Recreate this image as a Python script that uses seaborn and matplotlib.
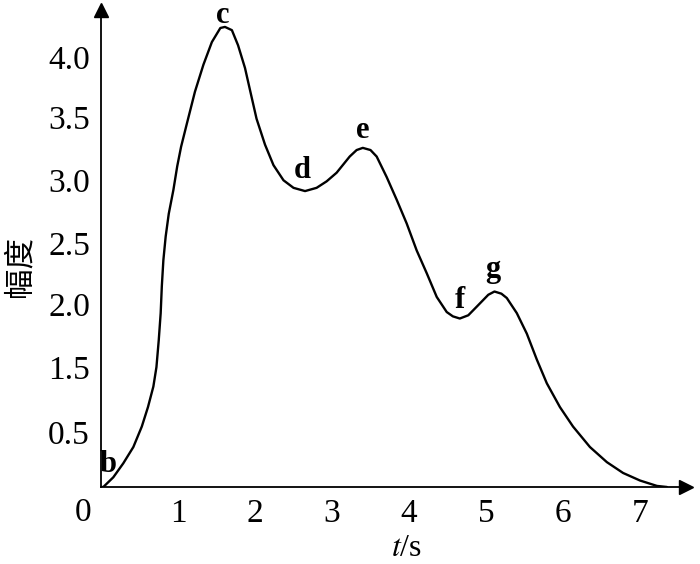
import matplotlib
matplotlib.use('Agg')
import pandas as pd
import matplotlib.pyplot as plt
import seaborn as sns

# --- DATA ---
# curve (time in s, amplitude)
t_vals = [0.00, 0.03, 0.16, 0.29, 0.42, 0.53, 0.61, 0.68, 0.72, 0.75, 0.775,
          0.79, 0.81, 0.84, 0.88, 0.94, 0.99, 1.04, 1.11, 1.22, 1.33, 1.44,
          1.55, 1.61, 1.70, 1.78, 1.87, 1.94, 2.02, 2.13, 2.24, 2.37, 2.50,
          2.65, 2.80, 2.93, 3.06, 3.23, 3.32, 3.40, 3.50, 3.58, 3.71, 3.84,
          3.97, 4.10, 4.23, 4.36, 4.49, 4.57, 4.66, 4.77, 4.88, 5.03, 5.11,
          5.20, 5.27, 5.40, 5.53, 5.66, 5.79, 5.96, 6.13, 6.35, 6.57, 6.78,
          7.00, 7.22, 7.35]
amp_vals = [0.00, 0.00, 0.09, 0.22, 0.37, 0.56, 0.74, 0.93, 1.11, 1.36, 1.61,
            1.86, 2.10, 2.32, 2.53, 2.75, 2.97, 3.15, 3.35, 3.66, 3.91, 4.12,
            4.25, 4.26, 4.23, 4.09, 3.88, 3.66, 3.41, 3.17, 2.98, 2.84, 2.77,
            2.74, 2.77, 2.83, 2.91, 3.06, 3.12, 3.14, 3.12, 3.06, 2.87, 2.66,
            2.44, 2.19, 1.98, 1.76, 1.62, 1.58, 1.56, 1.59, 1.67, 1.78, 1.81,
            1.79, 1.75, 1.61, 1.42, 1.18, 0.96, 0.74, 0.56, 0.37, 0.23, 0.13,
            0.06, 0.01, 0.00]

x_ticks = [1, 2, 3, 4, 5, 6, 7]
y_ticks = [0.5, 1.0, 1.5, 2.0, 2.5, 3.0, 3.5, 4.0]
# the y labels in the original sit off their tick marks
y_label_pos = [0.51, 1.11, 1.69, 2.26, 2.84, 3.42, 3.98]
y_label_text = ['0.5', '1.5', '2.0', '2.5', '3.0', '3.5', '4.0']

point_names = ['b', 'c', 'd', 'e', 'f', 'g']
point_t = [0.09, 1.58, 2.62, 3.40, 4.66, 5.09]
point_amp = [0.14, 4.30, 2.86, 3.23, 1.66, 1.94]

# --- STYLE ---
sns.set_style('white')
plt.rcParams['font.family'] = ['Liberation Serif', 'Noto Sans CJK SC']
plt.rcParams['mathtext.fontset'] = 'stix'
plt.rcParams['text.color'] = 'black'
plt.rcParams['xtick.color'] = 'black'
plt.rcParams['ytick.color'] = 'black'

fig = plt.figure(figsize=(7, 5.64), dpi=100)
# axes origin at (101, 487) px, 77 px per second, 108 px per amplitude unit
ax = fig.add_axes([101 / 700, 77 / 564, 585 / 700, 477 / 564])

df = pd.DataFrame({'t': t_vals, 'amp': amp_vals})
sns.lineplot(data=df, x='t', y='amp', color='black', lw=1.7, ax=ax, sort=False)

ax.set_xlim(0, 585 / 77)
ax.set_ylim(0, 477 / 108)

# axes lines with arrow heads
for side in ['top', 'right']:
    ax.spines[side].set_visible(False)
for side in ['left', 'bottom']:
    ax.spines[side].set_linewidth(1.3)
    ax.spines[side].set_color('black')
ax.plot(1, 0, '>', color='black', ms=10, transform=ax.transAxes, clip_on=False)
ax.plot(0, 1, '^', color='black', ms=10, transform=ax.transAxes, clip_on=False)

# ticks
ax.set_xticks(x_ticks)
ax.set_xticklabels([str(v) for v in x_ticks])
ax.set_yticks(y_ticks)
ax.set_yticklabels([''] * len(y_ticks))
ax.set_yticks(y_label_pos, minor=True)
ax.set_yticklabels(y_label_text, minor=True)
ax.tick_params(axis='both', which='major', direction='in', length=7, width=1.2,
               color='black', labelsize=24, labelcolor='black')
ax.tick_params(axis='x', which='major', pad=8)
ax.tick_params(axis='y', which='minor', length=0, labelsize=24, pad=8, labelcolor='black')
ax.tick_params(axis='x', which='minor', length=0)
ax.text(-18 / 77, -26 / 108, '0', fontsize=24, color='black',
        ha='center', va='center', clip_on=False)

# point names
for name, t, a in zip(point_names, point_t, point_amp):
    ax.text(t, a, name, fontsize=22, fontweight='bold', ha='center', va='baseline')

ax.set_xlabel('')
ax.set_ylabel('')
fig.text(20 / 700, 1 - 267 / 564, '幅度', rotation=90, ha='center', va='center',
         fontsize=22, family=['Noto Sans CJK SC', 'DejaVu Sans'])
fig.text(407 / 700, 1 - 549 / 564, '$t$/s', ha='center', va='center', fontsize=23)

fig.savefig('out.png', dpi=100)
